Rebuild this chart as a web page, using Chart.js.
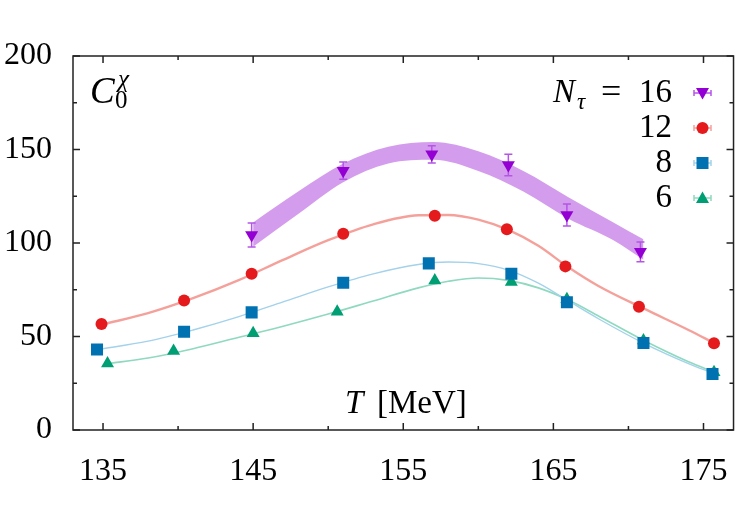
<!DOCTYPE html>
<html>
<head>
<meta charset="utf-8">
<script src="https://cdn.jsdelivr.net/npm/chart.js@4.4.1/dist/chart.umd.min.js"></script>
<style>
  html, body { margin: 0; padding: 0; background: #fff; }
  #wrap { width: 750px; height: 515px; }
</style>
</head>
<body>
<div id="wrap"><canvas id="chart" width="750" height="515"></canvas></div>
<script>
// axis ticks
const xTicks = [135, 145, 155, 165, 175];
const xMinor = [140, 150, 160, 170];
const yTicks = [0, 50, 100, 150, 200];
const yMinor = [25, 75, 125, 175];

// N_tau = 16 (points + errors + band)
const t16 = [144.9, 151.0, 156.9, 162.0, 165.9, 170.8];
const c16 = [104.3, 138.7, 147.4, 141.7, 115.0, 95.3];
const e16 = [6.4, 4.6, 4.6, 5.7, 5.9, 5.3];
const bandT = [145, 148, 151, 154, 157, 160, 163, 166, 169, 171];
const bandHi = [111, 127.5, 142.5, 151.5, 154, 149, 138.5, 124.5, 111, 102];
const bandLo = [98, 115.5, 132.5, 142.5, 144.5, 138.5, 127.5, 113, 101.5, 91];

// N_tau = 12
const t12 = [134.9, 140.4, 144.9, 151.0, 157.1, 161.9, 165.8, 170.7, 175.7];
const c12 = [56.7, 69.3, 83.6, 105.0, 114.6, 107.3, 87.5, 65.9, 46.4];
const t12fit = [135, 138, 141, 144, 147, 150, 153, 156, 158, 160, 162, 164, 166, 168, 171, 174, 175.7];
const c12fit = [56.5, 62.5, 70.5, 80, 91, 101.5, 110, 114.8, 115, 112.5, 107, 98.5, 87, 77, 65, 53.5, 46.5];

// N_tau = 8
const t8 = [134.6, 140.4, 144.9, 151.0, 156.7, 162.2, 165.9, 171.0, 175.6];
const c8 = [43.1, 52.6, 62.9, 78.8, 89.1, 83.6, 68.3, 46.5, 29.9];
const t8fit = [134.6, 138, 141, 144, 147, 150, 153, 156, 158, 160, 162, 164, 166, 168, 171, 174, 175.6];
const c8fit = [43, 47.5, 53.5, 60.5, 68.5, 76.5, 83.5, 88.5, 89.8, 89, 85.5, 78.5, 69, 59.5, 46.5, 35.5, 30.5];

// N_tau = 6
const t6 = [135.3, 139.7, 145.0, 150.6, 157.1, 162.2, 165.9, 171.0, 175.7];
const c6 = [35.6, 42.2, 51.7, 63.3, 80.0, 79.1, 69.9, 47.8, 30.9];
const t6fit = [135.3, 138, 141, 144, 147, 150, 153, 156, 158, 160, 162, 164, 166, 168, 171, 174, 175.7];
const c6fit = [35.5, 38.5, 43.5, 49.5, 55.5, 62, 69, 76, 79.5, 81.3, 80, 76, 69.5, 61, 48, 36.5, 31];

const legendLabels = ['16', '12', '8', '6'];

const PURPLE = '#9400d3', PURPLE_BAND = '#d49cec', PURPLE_ERR = '#b455e6';
const RED = '#e41a1c', RED_LINE = '#f5a19b';
const BLUE = '#0072b2', BLUE_LINE = '#a3d2ea';
const GREEN = '#009e73', GREEN_LINE = '#8fd9bf';
const SERIF = '"Liberation Serif", "DejaVu Serif", serif';

const pts = (xs, ys) => xs.map((x, i) => ({ x: x, y: ys[i] }));

function markerDs(label, xs, ys, color, style, radius, rotation) {
    return {
        label: label,
        data: pts(xs, ys),
        showLine: false,
        pointStyle: style,
        pointRadius: radius,
        pointRotation: rotation || 0,
        pointBackgroundColor: color,
        pointBorderColor: color,
        pointBorderWidth: 0,
        order: 1
    };
}

function curveDs(xs, ys, color, width) {
    return {
        data: pts(xs, ys),
        showLine: true,
        borderColor: color,
        borderWidth: width,
        pointRadius: 0,
        tension: 0.4,
        cubicInterpolationMode: 'monotone',
        fill: false,
        order: 2
    };
}

function drawMark(ctx, style, x, y, color) {
    ctx.fillStyle = color;
    ctx.beginPath();
    if (style === 'down') {
        ctx.moveTo(x - 6.5, y - 5); ctx.lineTo(x + 6.5, y - 5); ctx.lineTo(x, y + 6.5);
    } else if (style === 'circle') {
        ctx.arc(x, y, 6, 0, Math.PI * 2);
    } else if (style === 'square') {
        ctx.rect(x - 6, y - 6, 12, 12);
    } else {
        ctx.moveTo(x - 6.5, y + 5); ctx.lineTo(x + 6.5, y + 5); ctx.lineTo(x, y - 6.5);
    }
    ctx.closePath();
    ctx.fill();
}

// vertical error bars for N_tau = 16, drawn under the markers
const errorBars = {
    id: 'errorBars',
    beforeDatasetDraw(chart, args) {
        if (chart.data.datasets[args.index].label !== 'N16') return;
        const ctx = chart.ctx, xs = chart.scales.x, ys = chart.scales.y;
        ctx.save();
        ctx.strokeStyle = PURPLE_ERR;
        ctx.lineWidth = 1.5;
        t16.forEach((t, i) => {
            const px = xs.getPixelForValue(t);
            const top = ys.getPixelForValue(c16[i] + e16[i]);
            const bot = ys.getPixelForValue(c16[i] - e16[i]);
            ctx.beginPath();
            ctx.moveTo(px, top); ctx.lineTo(px, bot);
            ctx.moveTo(px - 4, top); ctx.lineTo(px + 4, top);
            ctx.moveTo(px - 4, bot); ctx.lineTo(px + 4, bot);
            ctx.stroke();
        });
        ctx.restore();
    }
};

// frame with inward ticks on all four sides, plus labels and legend
const overlay = {
    id: 'overlay',
    afterDraw(chart) {
        const ctx = chart.ctx, a = chart.chartArea;
        const xs = chart.scales.x, ys = chart.scales.y;
        ctx.save();
        ctx.strokeStyle = '#222';
        ctx.lineWidth = 1.5;
        ctx.strokeRect(a.left, a.top, a.right - a.left, a.bottom - a.top);
        ctx.beginPath();
        const xt = (v, len) => {
            const p = xs.getPixelForValue(v);
            ctx.moveTo(p, a.bottom); ctx.lineTo(p, a.bottom - len);
            ctx.moveTo(p, a.top); ctx.lineTo(p, a.top + len);
        };
        const yt = (v, len) => {
            const p = ys.getPixelForValue(v);
            ctx.moveTo(a.left, p); ctx.lineTo(a.left + len, p);
            ctx.moveTo(a.right, p); ctx.lineTo(a.right - len, p);
        };
        xTicks.forEach(v => xt(v, 7));
        xMinor.forEach(v => xt(v, 4));
        yTicks.forEach(v => yt(v, 7));
        yMinor.forEach(v => yt(v, 4));
        ctx.stroke();

        ctx.fillStyle = '#000';
        ctx.textBaseline = 'alphabetic';
        // C_0^chi
        ctx.font = 'italic 37px ' + SERIF;
        ctx.fillText('C', 90, 103);
        ctx.font = '25px ' + SERIF;
        ctx.fillText('0', 115, 108);
        ctx.font = 'italic 25px ' + SERIF;
        ctx.fillText('χ', 118, 87);

        // axis title
        ctx.font = 'italic 33px ' + SERIF;
        ctx.fillText('T', 345, 413);
        ctx.font = '33px ' + SERIF;
        ctx.fillText('[MeV]', 377, 413);

        // legend
        ctx.font = 'italic 33px ' + SERIF;
        ctx.fillText('N', 553, 102);
        ctx.font = 'italic 23px ' + SERIF;
        ctx.fillText('τ', 577, 109);
        ctx.font = '36px ' + SERIF;
        ctx.fillText('=', 601, 103);
        ctx.font = '33px ' + SERIF;
        ctx.textAlign = 'right';
        const styles = ['down', 'circle', 'square', 'up'];
        const marks = [PURPLE, RED, BLUE, GREEN];
        const bars = [PURPLE_ERR, RED_LINE, BLUE_LINE, GREEN_LINE];
        legendLabels.forEach((lab, i) => {
            const base = 102 + i * 35;
            ctx.fillStyle = '#000';
            ctx.fillText(lab, 672, base);
            const my = base - 9;
            ctx.strokeStyle = bars[i];
            ctx.lineWidth = 1.5;
            ctx.beginPath();
            ctx.moveTo(694, my); ctx.lineTo(711, my);
            ctx.moveTo(694, my - 3); ctx.lineTo(694, my + 3);
            ctx.moveTo(711, my - 3); ctx.lineTo(711, my + 3);
            ctx.stroke();
            drawMark(ctx, styles[i], 702.5, my, marks[i]);
        });
        ctx.restore();
    }
};

new Chart(document.getElementById('chart'), {
    type: 'scatter',
    data: {
        datasets: [
            markerDs('N16', t16, c16, PURPLE, 'triangle', 7.5, 180),
            markerDs('N12', t12, c12, RED, 'circle', 6),
            markerDs('N8', t8, c8, BLUE, 'rect', 8.5),
            markerDs('N6', t6, c6, GREEN, 'triangle', 7.5),
            curveDs(t12fit, c12fit, RED_LINE, 2.4),
            curveDs(t8fit, c8fit, BLUE_LINE, 1.4),
            curveDs(t6fit, c6fit, GREEN_LINE, 1.6),
            {
                data: pts(bandT, bandHi),
                showLine: true,
                borderWidth: 0,
                borderColor: PURPLE_BAND,
                backgroundColor: PURPLE_BAND,
                pointRadius: 0,
                tension: 0.4,
                cubicInterpolationMode: 'monotone',
                fill: '+1',
                order: 3
            },
            {
                data: pts(bandT, bandLo),
                showLine: true,
                borderWidth: 0,
                borderColor: PURPLE_BAND,
                pointRadius: 0,
                tension: 0.4,
                cubicInterpolationMode: 'monotone',
                fill: false,
                order: 3
            }
        ]
    },
    options: {
        responsive: false,
        animation: false,
        devicePixelRatio: 1,
        layout: { padding: { top: 56, right: 11, left: 0, bottom: 0 } },
        plugins: { legend: { display: false }, tooltip: { enabled: false } },
        scales: {
            x: {
                type: 'linear',
                min: 133,
                max: 177,
                afterBuildTicks: s => { s.ticks = xTicks.map(v => ({ value: v })); },
                afterFit: s => { s.height = 85; },
                grid: { display: false, drawTicks: false },
                border: { display: false },
                ticks: { color: '#000', padding: 22, maxRotation: 0, font: { family: SERIF, size: 32 } }
            },
            y: {
                type: 'linear',
                min: 0,
                max: 200,
                afterBuildTicks: s => { s.ticks = yTicks.map(v => ({ value: v })); },
                afterFit: s => { s.width = 73; },
                grid: { display: false, drawTicks: false },
                border: { display: false },
                ticks: { color: '#000', padding: 21, font: { family: SERIF, size: 32 } }
            }
        }
    },
    plugins: [errorBars, overlay]
});
</script>
</body>
</html>
